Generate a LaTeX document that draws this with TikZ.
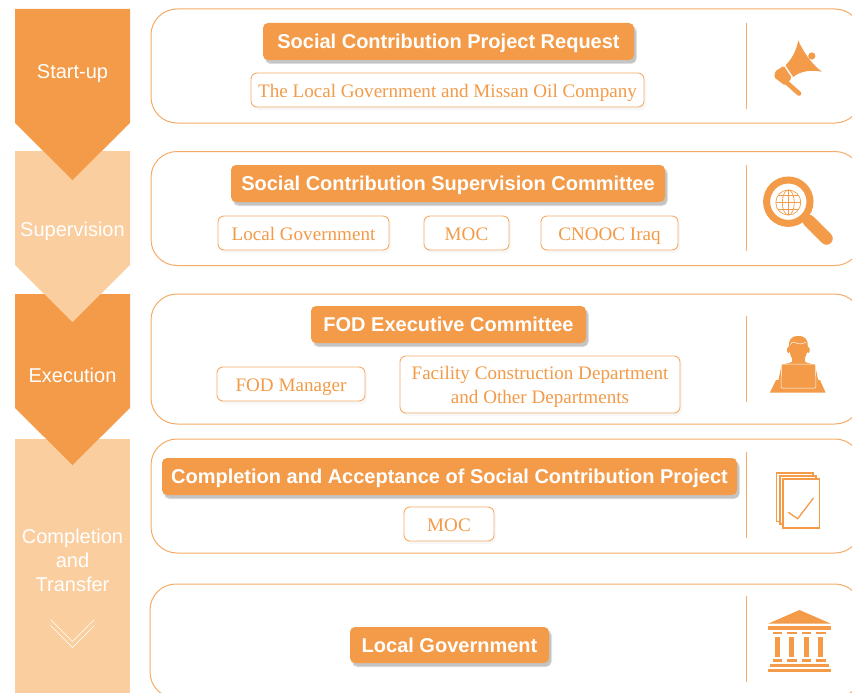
\documentclass[tikz,border=0pt]{standalone}
\usepackage{fontspec}
\setmainfont{Liberation Serif}
\setsansfont{Liberation Sans}
\usetikzlibrary{shadows,calc}
\definecolor{darko}{HTML}{F39B48}
\definecolor{lighto}{HTML}{FACE9F}
\definecolor{lineo}{HTML}{F6AC68}
\tikzset{
  x=1pt,y=-1pt,
  panel/.style={draw=lineo,line width=1pt,rounded corners=26pt,fill=white},
  sep/.style={draw=lineo,line width=1.1pt},
  headbox/.style={fill=darko,rounded corners=5pt,inner sep=0pt,text=white,
    font=\sffamily\bfseries\fontsize{20}{24}\selectfont,align=center,
    text height=16.5pt,text depth=2pt,
    drop shadow={shadow xshift=3pt,shadow yshift=-3pt,opacity=.10,fill=black,rounded corners=6pt},
    drop shadow={shadow xshift=2pt,shadow yshift=-4pt,opacity=.14,fill=black,rounded corners=5pt}},
  subbox/.style={draw=lineo,line width=.9pt,fill=white,rounded corners=6pt,inner sep=0pt,text=darko,
    font=\rmfamily\fontsize{19.1}{24}\selectfont,align=center,
    drop shadow={shadow xshift=2pt,shadow yshift=-3pt,opacity=.03,fill=black,rounded corners=6pt}},
  subone/.style={subbox,text height=16.5pt,text depth=2pt},
  sidelabel/.style={text=white,font=\sffamily\fontsize{20}{24}\selectfont,align=center,inner sep=0pt},
  sideone/.style={sidelabel,text height=16pt,text depth=2pt},
  icon/.style={fill=darko,draw=none},
  iconline/.style={draw=darko,fill=none},
  dbl/.style={draw=white,line width=.6pt,fill=none},
}
\begin{document}
\begin{tikzpicture}
\useasboundingbox (0,0) rectangle (852,693);
\begin{scope}
\clip (0,0) rectangle (852,693);
% side arrows, bottom to top
\fill[lighto] (15,439) rectangle (130,693);
\fill[darko] (15,294) -- (130,294) -- (130,408) -- (72.5,465) -- (15,408) -- cycle;
\fill[lighto] (15,151) -- (130,151) -- (130,265) -- (72.5,322) -- (15,265) -- cycle;
\fill[darko] (15,9) -- (130,9) -- (130,123) -- (72.5,180) -- (15,123) -- cycle;
% panels
\draw[panel] (151,9) rectangle (861,123);
\draw[panel] (151,151.5) rectangle (861,265.5);
\draw[panel] (151,294) rectangle (861,424);
\draw[panel] (151,439) rectangle (861,553);
\draw[panel] (150,584) rectangle (861,698);
% separators
\draw[sep] (746.5,23) -- (746.5,109);
\draw[sep] (746.5,165) -- (746.5,251);
\draw[sep] (746.5,316) -- (746.5,402);
\draw[sep] (746.5,452) -- (746.5,538);
\draw[sep] (746.5,596) -- (746.5,682);
\end{scope}
% side labels
\node[sideone] (l1) at (72.5,72) {Start-up};
\node[sideone] (l2) at (72.5,229) {Supervision};
\node[sideone] (l3) at (72.5,375) {Execution};
\node[sidelabel] (l4) at (72.5,560) {Completion\\and\\Transfer};
% chevrons
\draw[dbl] (50.5,619.5) -- (72.5,641.5) -- (94.5,619.5);
\draw[dbl] (50.5,625.5) -- (72.5,647.5) -- (94.5,625.5);
% headings
\node[headbox,minimum width=371pt,minimum height=37pt] (h1) at (448.5,41.5) {Social Contribution Project Request};
\node[headbox,minimum width=434pt,minimum height=37pt] (h2) at (448,183.5) {Social Contribution Supervision Committee};
\node[headbox,minimum width=275pt,minimum height=37pt] (h3) at (448.5,324.5) {FOD Executive Committee};
\node[headbox,minimum width=575pt,minimum height=37pt] (h4) at (449.5,476.5) {Completion and Acceptance of Social Contribution Project};
\node[headbox,minimum width=199pt,minimum height=36pt] (h5) at (449.5,645) {Local Government};
% sub boxes
\node[subone,minimum width=393pt,minimum height=34pt] (s1) at (447.5,90) {The Local Government and Missan Oil Company};
\node[subone,minimum width=171pt,minimum height=34pt] (s2a) at (303.5,233) {Local Government};
\node[subone,minimum width=85pt,minimum height=34pt] (s2b) at (466.5,233) {MOC};
\node[subone,minimum width=137pt,minimum height=34pt] (s2c) at (609.5,233) {CNOOC Iraq};
\node[subone,minimum width=148pt,minimum height=34pt] (s3a) at (291,384) {FOD Manager};
\node[subbox,minimum width=280pt,minimum height=57pt] (s3b) at (540,384.5) {\rule{0pt}{18pt}Facility Construction Department\\and Other Departments};
\node[subone,minimum width=90pt,minimum height=34pt] (s4) at (449,524) {MOC};
% megaphone
\fill[icon] (811.8,56) circle (3.6);
\fill[icon] (798.3,40.5) .. controls (802,49) and (810,63) .. (821.8,71.7) .. controls (812,69.5) and (800,71) .. (793.3,77) -- (785.5,65.3) .. controls (791,60) and (796,52) .. (798.3,40.5) -- cycle;
\fill[icon,rounded corners=1.5pt] (783.8,65.8) -- (775,71.5) -- (774.3,77.5) -- (785,85.5) -- (791.8,78) -- cycle;
\draw[darko,line width=4.6pt,line cap=round] (786,82) -- (799,93.5);
% magnifier
\draw[darko,line width=7pt] (788.3,201.7) circle (21.7);
\draw[darko,line width=5pt] (804,217) -- (812,224);
\draw[darko,line width=12.5pt,line cap=round] (809,221) -- (826.5,238.5);
\begin{scope}[line width=.7pt]
\draw[iconline] (788.3,202.5) circle (12.5);
\draw[iconline] (788.3,202.5) ellipse (6 and 12.5);
\draw[iconline] (788.3,190) -- (788.3,215);
\draw[iconline] (775.8,202.5) -- (800.8,202.5);
\draw[iconline] (778,195.5) -- (798.6,195.5);
\draw[iconline] (778,209.5) -- (798.6,209.5);
\end{scope}
% person
\fill[icon] (798.3,336) .. controls (791,336) and (788.7,340) .. (788.9,346) .. controls (789,353) and (792,362.5) .. (798.3,363.2) .. controls (804.6,362.5) and (807.6,353) .. (807.8,346) .. controls (808,340) and (805.6,336) .. (798.3,336) -- cycle;
\draw[white,line width=.45pt] (790.3,344.5) .. controls (791,342) and (793,341.5) .. (795,342.5) .. controls (799,344.8) and (803,344) .. (806,342);
\fill[icon] (788.5,350) ellipse (1.6 and 3);
\fill[icon] (808.2,350) ellipse (1.6 and 3);
\fill[icon] (792,358) -- (805,358) -- (805,362) -- (815,365) -- (818.3,380.5) -- (778.3,380.5) -- (781.7,365) -- (792,362) -- cycle;
\fill[icon] (776,380) -- (820,380) -- (825.5,392.5) -- (770,392.5) -- cycle;
\draw[white,line width=.5pt,fill=darko,rounded corners=1pt] (781.5,364) -- (815.5,364) -- (816,388) -- (781,388) -- cycle;
% documents
\begin{scope}[draw=darko,fill=white,line width=1.8pt]
\filldraw (776.5,473) rectangle (812.8,521.5);
\filldraw (779.8,476) rectangle (816,524.3);
\filldraw (782.8,479) rectangle (819.5,527.8);
\end{scope}
\draw[darko,line width=1.3pt] (788.3,512.3) -- (797.7,518.7) -- (813.5,498);
% bank
\fill[icon] (799.5,610) -- (830.5,623.5) -- (768.5,623.5) -- cycle;
\fill[icon] (767.7,626) rectangle (830.7,630);
\foreach \cx in {777.3,791.7,806.3,820.7}{
  \fill[icon] ({\cx-4.8},632) rectangle ({\cx+4.8},634.3);
  \fill[icon] ({\cx-2.5},636.7) rectangle ({\cx+2.5},657.3);
  \fill[icon] ({\cx-4.8},659.3) rectangle ({\cx+4.8},661.7);
}
\fill[icon] (770,664.3) rectangle (828.5,666.7);
\fill[icon] (767.7,669.3) rectangle (830.7,671.7);
\end{tikzpicture}
\end{document}
